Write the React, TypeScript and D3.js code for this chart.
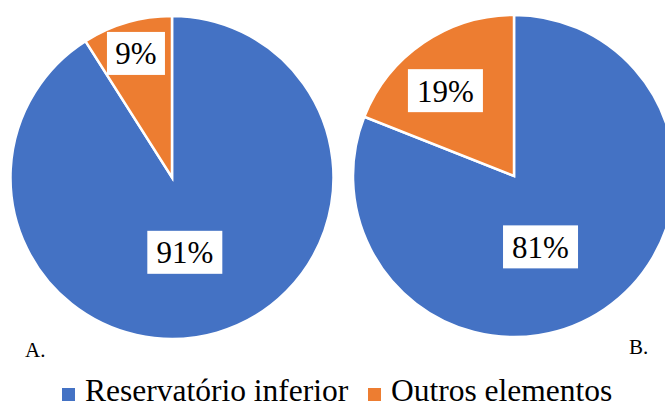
import React from "react";
import * as d3 from "d3";

const categories = ["Reservatório inferior", "Outros elementos"];
const valuesA = [91, 9];
const valuesB = [81, 19];
const panelLabels = ["A.", "B."];
const colors = ["#4472C4", "#ED7D31"];

const W = 665;
const H = 408;
const FONT = '"Times New Roman", "Liberation Serif", "DejaVu Serif", serif';

function Pie({ values, cx, cy, r }: { values: number[]; cx: number; cy: number; r: number }) {
  const pie = d3.pie<number>().sort(null).value((d) => d);
  const arcs = pie(values);
  const arc = d3.arc<d3.PieArcDatum<number>>().innerRadius(0).outerRadius(r);
  const total = d3.sum(values);
  return (
    <g transform={`translate(${cx},${cy})`}>
      {arcs.map((a, i) => (
        <path key={i} d={arc(a) || ""} fill={colors[i]} stroke="#fff" strokeWidth={2.5} strokeLinejoin="miter" />
      ))}
      {arcs.map((a, i) => {
        const share = a.value / total;
        let mid = (a.startAngle + a.endAngle) / 2;
        let f: number;
        if (share > 0.5) {
          mid = Math.PI + (mid - Math.PI) * 0.6;
          f = 0.47;
        } else if (share < 0.12) {
          f = 0.8;
        } else {
          f = 0.68;
          mid = mid - 0.08;
        }
        const x = Math.sin(mid) * r * f;
        const y = -Math.cos(mid) * r * f;
        const txt = `${a.value}%`;
        const bw = txt.length === 2 ? 58 : 75;
        const bh = 43;
        return (
          <g key={"l" + i} transform={`translate(${x},${y})`}>
            <rect x={-bw / 2} y={-bh / 2} width={bw} height={bh} fill="#fff" />
            <text
              textAnchor="middle"
              dy="0.35em"
              style={{ fontFamily: FONT, fontSize: 31 }}
              fill="#000"
            >
              {txt}
            </text>
          </g>
        );
      })}
    </g>
  );
}

export default function App() {
  const legendX = [62, 368];
  return (
    <svg
      width={W}
      height={H}
      style={{ position: "absolute", left: 0, top: 0, background: "#fff" }}
    >
      <rect width={W} height={H} fill="#fff" />
      <Pie values={valuesA} cx={172} cy={177.5} r={161.5} />
      <Pie values={valuesB} cx={514} cy={176} r={161} />
      <text x={25} y={357} style={{ fontFamily: FONT, fontSize: 21 }} fill="#000">
        {panelLabels[0]}
      </text>
      <text x={629} y={354} style={{ fontFamily: FONT, fontSize: 21 }} fill="#000">
        {panelLabels[1]}
      </text>
      {categories.map((c, i) => (
        <g key={c} transform={`translate(${legendX[i]},0)`}>
          <rect x={0} y={388} width={13} height={13} fill={colors[i]} />
          <text x={23} y={401} style={{ fontFamily: FONT, fontSize: 31.5 }} fill="#000">
            {c}
          </text>
        </g>
      ))}
    </svg>
  );
}
